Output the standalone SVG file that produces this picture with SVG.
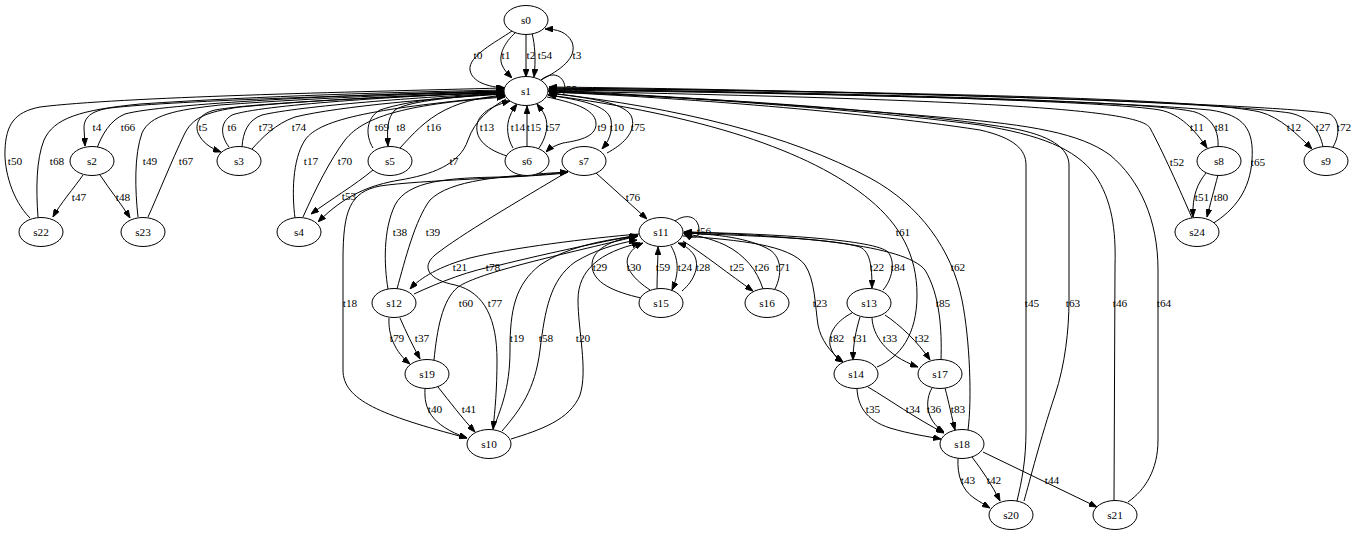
<svg xmlns="http://www.w3.org/2000/svg" width="1364" height="534" viewBox="0 0 1364 534">
<style>
  .n ellipse { fill: #fff; stroke: #000; stroke-width: 1; }
  text { font-family: "Liberation Serif", "Times New Roman", serif; font-size: 11.3px; fill: #000; text-anchor: middle; }
  .c path { fill: none; stroke: #000; stroke-width: 1; }
  .c path.a { marker-end: url(#arr); }
</style>
<defs>
  <marker id="arr" markerUnits="userSpaceOnUse" viewBox="0 0 8 6" markerWidth="8" markerHeight="6" refX="8" refY="3" orient="auto">
    <path d="M0,0 L8,3 L0,6 z" fill="#000" stroke="#000" stroke-width="0.8"/>
  </marker>
</defs>
<rect width="1364" height="534" fill="#fff"/>

<g id="connectors" class="c">
  <!-- s0 / s1 -->
  <path class="a" d="M512,31 C496,42 468,56 470,70 C472,82 488,87 505,88"/>
  <path class="a" d="M515,33 C505,42 498,55 502,65 C504,70 508,74 512,78"/>
  <path class="a" d="M526,34 L526,77"/>
  <path class="a" d="M532,33 C535,45 536,60 534,77"/>
  <path class="a" d="M541,80 C560,70 578,58 572,42 C567,32 557,29 545,29"/>
  <path class="a" d="M541,80 C553,70 565,76 565,89 C565,99 557,93 548,91"/>
  <!-- left fan -->
  <path class="a" d="M30,218 C12,200 4,170 5,150 C6,125 14,112 40,107 C120,97 350,92 504,88"/>
  <path class="a" d="M38,217 C36,190 36,160 44,140 C54,118 80,110 140,104 C260,96 400,92 504,90"/>
  <path class="a" d="M504,91 C380,95 180,100 110,108 C90,111 84,118 84,128 L85,146"/>
  <path class="a" d="M97,148 C102,135 110,120 125,114 C160,104 350,94 504,91"/>
  <path class="a" d="M83,175 C74,188 60,204 53,217"/>
  <path class="a" d="M100,175 C110,190 122,205 130,218"/>
  <path class="a" d="M138,217 C135,190 134,155 142,133 C150,115 175,110 220,105 C330,97 440,93 504,92"/>
  <path class="a" d="M148,217 C158,195 172,160 184,135 C192,118 205,112 240,107 C340,98 440,94 504,93"/>
  <path class="a" d="M504,92 C400,97 260,102 215,110 C198,114 195,125 198,133 C202,142 210,148 221,152"/>
  <path class="a" d="M229,147 C220,135 220,122 232,115 C260,105 400,96 504,92"/>
  <path class="a" d="M242,147 C243,132 248,120 262,115 C300,106 420,97 504,93"/>
  <path class="a" d="M252,149 C262,138 275,124 295,117 C340,106 440,98 505,94"/>
  <path class="a" d="M295,218 C292,195 292,160 305,140 C320,118 380,108 505,96"/>
  <path class="a" d="M303,217 C315,190 330,160 345,140 C365,115 410,104 505,97"/>
  <path class="a" d="M506,99 C490,108 475,120 468,140 C460,165 430,175 400,180 C370,185 345,195 318,222"/>
  <path class="a" d="M373,170 C355,185 330,200 311,214"/>
  <path class="a" d="M373,148 C365,135 366,118 380,110 C410,100 460,95 504,94"/>
  <path class="a" d="M505,93 C460,97 410,100 395,110 C387,118 387,130 388,146"/>
  <path class="a" d="M400,148 C412,135 425,120 445,110 C465,100 485,97 505,95"/>
  <path class="a" d="M507,156 C488,150 475,140 477,125 C479,112 495,105 510,101"/>
  <path class="a" d="M513,148 C507,138 506,125 510,116 C512,111 514,108 517,104"/>
  <path class="a" d="M527,147 L527,106"/>
  <path class="a" d="M539,148 C546,138 549,125 545,116 C543,111 540,108 537,104"/>
  <path class="a" d="M547,97 C570,102 595,108 596,123 C597,138 575,141 563,143 C556,145 550,148 546,152"/>
  <path class="a" d="M548,95 C580,100 608,105 611,120 C613,133 608,142 602,149"/>
  <path class="a" d="M607,153 C622,145 636,133 632,118 C628,103 590,98 549,93"/>
  <path class="a" d="M596,173 L647,219"/>
  <!-- right fan -->
  <path class="a" d="M548,89 C800,93 1100,100 1160,110 C1180,114 1195,130 1207,148"/>
  <path class="a" d="M1218,147 C1219,132 1213,118 1195,112 C1150,100 800,92 549,89"/>
  <path class="a" d="M1192,218 C1180,190 1162,150 1150,128 C1140,110 1000,100 549,91"/>
  <path class="a" d="M1212,224 C1235,210 1250,190 1252,160 C1254,130 1245,115 1210,110 C1100,100 800,93 549,90"/>
  <path class="a" d="M1206,173 C1198,183 1192,195 1193,217"/>
  <path class="a" d="M1218,175 C1214,190 1210,205 1207,217"/>
  <path class="a" d="M549,88 C900,92 1200,98 1260,112 C1280,117 1298,135 1312,149"/>
  <path class="a" d="M1323,147 C1320,132 1312,118 1290,113 C1200,100 850,91 549,88"/>
  <path class="a" d="M1333,147 C1340,135 1340,120 1330,114 C1300,105 850,90 549,87"/>
  <path class="a" d="M1017,501 C1022,480 1026,460 1026,430 L1026,165 C1026,150 1015,138 980,130 C850,110 650,96 549,92"/>
  <path class="a" d="M1024,501 C1030,480 1040,440 1055,395 C1065,365 1069,330 1069,300 L1069,165 C1069,148 1050,135 1010,128 C900,110 700,97 549,92"/>
  <path class="a" d="M1114,500 L1115,265 C1116,230 1112,200 1095,175 C1075,148 1040,135 980,125 C850,108 650,95 549,91"/>
  <path class="a" d="M1128,502 C1145,490 1158,470 1158,440 L1158,270 C1158,220 1140,180 1110,155 C1080,133 1030,125 950,118 C800,105 650,95 549,90"/>
  <path class="a" d="M877,367 C900,357 917,335 917,295 C917,255 900,225 870,200 C810,150 700,115 548,95"/>
  <path class="a" d="M968,430 C972,400 970,340 962,300 C952,250 920,205 870,178 C790,135 680,108 549,93"/>
  <!-- s11 cluster -->
  <path class="a" d="M675,221 C688,212 699,218 699,230 C699,240 692,238 684,234"/>
  <path class="a" d="M639,234 C590,238 510,248 470,258 C440,266 420,278 410,289"/>
  <path class="a" d="M414,294 C440,282 470,270 500,265 C540,255 600,242 638,235"/>
  <path class="a" d="M434,360 C437,330 442,300 458,287 C480,272 560,255 638,236"/>
  <path class="a" d="M493,430 C500,410 510,390 510,350 C510,310 515,285 540,265 C565,248 600,240 638,236"/>
  <path class="a" d="M502,431 C520,410 535,390 540,350 C545,310 550,280 575,262 C595,250 615,244 637,240"/>
  <path class="a" d="M511,439 C540,430 570,420 580,395 C588,370 578,330 578,300 C578,270 600,252 640,243"/>
  <path class="a" d="M388,289 C384,265 383,230 395,205 C408,180 450,178 500,177 C530,176 550,174 568,172"/>
  <path class="a" d="M397,289 C405,260 415,220 430,200 C450,180 500,176 568,172"/>
  <path class="a" d="M566,173 C520,178 420,180 380,186 C350,192 343,210 343,260 L343,370 C343,400 380,415 467,438"/>
  <path class="a" d="M567,172 C520,200 460,235 435,255 C420,268 430,280 455,285 C485,292 497,320 497,360 C497,390 495,410 493,429"/>
  <path class="a" d="M389,318 C388,335 395,352 410,364"/>
  <path class="a" d="M400,318 C406,332 413,346 420,359"/>
  <path class="a" d="M425,389 C424,408 430,425 467,438"/>
  <path class="a" d="M438,387 C450,402 462,418 475,432"/>
  <path class="a" d="M641,298 C615,292 592,283 592,265 C592,250 610,240 637,236"/>
  <path class="a" d="M650,290 C635,280 624,268 628,257 C631,250 636,246 643,243"/>
  <path class="a" d="M657,289 C657,275 658,260 658,247"/>
  <path class="a" d="M671,246 C678,258 680,272 672,290"/>
  <path class="a" d="M682,291 C695,280 700,265 694,255 C690,249 684,245 678,243"/>
  <path class="a" d="M683,241 C705,255 730,275 753,291"/>
  <path class="a" d="M763,289 C757,270 745,255 725,245 C710,238 695,235 684,234"/>
  <path class="a" d="M775,289 C782,275 782,258 770,250 C750,238 715,234 684,233"/>
  <path class="a" d="M683,236 C740,240 790,245 805,265 C815,280 815,305 818,325 C821,340 830,352 843,362"/>
  <path class="a" d="M683,233 C750,236 830,238 860,247 C870,252 872,265 872,288"/>
  <path class="a" d="M883,290 C892,280 896,262 888,252 C875,240 780,234 684,232"/>
  <path class="a" d="M941,360 C942,330 940,295 925,270 C905,245 800,236 684,232"/>
  <!-- s13 / s14 / s17 / s18 -->
  <path class="a" d="M852,313 C838,320 828,332 830,345 C832,353 836,358 843,362"/>
  <path class="a" d="M860,317 C856,330 853,345 853,360"/>
  <path class="a" d="M872,318 C873,335 885,355 918,367"/>
  <path class="a" d="M885,315 C900,325 918,342 930,360"/>
  <path class="a" d="M857,389 C858,405 865,420 890,428 C910,434 925,436 941,439"/>
  <path class="a" d="M868,387 C890,400 915,418 944,433"/>
  <path class="a" d="M932,388 C925,400 925,420 944,432"/>
  <path class="a" d="M945,388 C949,403 952,418 955,430"/>
  <path class="a" d="M958,458 C957,475 962,490 974,498 C980,502 985,505 990,508"/>
  <path class="a" d="M972,457 C982,470 992,485 1000,501"/>
  <path class="a" d="M983,452 L1097,507"/>

  <!-- edge labels -->
  <text x="478" y="59">t0</text><text x="506" y="59">t1</text><text x="531" y="59">t2</text>
  <text x="545" y="59">t54</text><text x="577" y="59">t3</text><text x="570" y="93">t55</text>
  <text x="97" y="131">t4</text><text x="128" y="131">t66</text><text x="15" y="165">t50</text>
  <text x="57" y="165">t68</text><text x="150" y="165">t49</text><text x="186" y="165">t67</text>
  <text x="79" y="201">t47</text><text x="123" y="201">t48</text>
  <text x="203" y="131">t5</text><text x="232" y="131">t6</text><text x="266" y="131">t73</text>
  <text x="299" y="131">t74</text><text x="311" y="165">t17</text><text x="345" y="165">t70</text>
  <text x="349" y="200">t53</text><text x="454" y="165">t7</text>
  <text x="382" y="131">t69</text><text x="401" y="131">t8</text><text x="434" y="131">t16</text>
  <text x="487" y="131">t13</text><text x="518" y="131">t14</text><text x="534" y="131">t15</text>
  <text x="553" y="131">t57</text><text x="602" y="131">t9</text><text x="617" y="131">t10</text>
  <text x="638" y="131">t75</text><text x="633" y="201">t76</text>
  <text x="1197" y="131">t11</text><text x="1222" y="131">t81</text><text x="1177" y="166">t52</text>
  <text x="1258" y="166">t65</text><text x="1202" y="201">t51</text><text x="1221" y="201">t80</text>
  <text x="1294" y="131">t12</text><text x="1323" y="131">t27</text><text x="1344" y="131">t72</text>
  <text x="1032" y="307">t45</text><text x="1073" y="307">t63</text>
  <text x="1120" y="307">t46</text><text x="1164" y="307">t64</text>
  <text x="903" y="236">t61</text><text x="958" y="271">t62</text>
  <text x="704" y="235">t56</text><text x="600" y="271">t29</text><text x="634" y="271">t30</text>
  <text x="663" y="271">t59</text><text x="685" y="271">t24</text><text x="703" y="271">t28</text>
  <text x="737" y="271">t25</text><text x="762" y="271">t26</text><text x="783" y="271">t71</text>
  <text x="820" y="307">t23</text><text x="877" y="271">t22</text><text x="898" y="271">t84</text>
  <text x="943" y="307">t85</text><text x="837" y="342">t82</text><text x="860" y="342">t31</text>
  <text x="890" y="342">t33</text><text x="922" y="342">t32</text><text x="873" y="413">t35</text>
  <text x="913" y="413">t34</text><text x="934" y="413">t36</text><text x="958" y="413">t83</text>
  <text x="968" y="484">t43</text><text x="994" y="484">t42</text><text x="1052" y="484">t44</text>
  <text x="460" y="271">t21</text><text x="493" y="271">t78</text><text x="400" y="236">t38</text>
  <text x="433" y="236">t39</text><text x="350" y="307">t18</text><text x="495" y="307">t77</text>
  <text x="466" y="307">t60</text><text x="517" y="342">t19</text><text x="546" y="342">t58</text>
  <text x="583" y="342">t20</text><text x="397" y="342">t79</text><text x="422" y="342">t37</text>
  <text x="435" y="413">t40</text><text x="469" y="413">t41</text>
</g>

<g id="s0" class="n"><ellipse cx="526" cy="20" rx="22" ry="14.5"/><text x="526" y="24">s0</text></g>
<g id="s1" class="n"><ellipse cx="526" cy="91" rx="22" ry="14.5"/><text x="526" y="95">s1</text></g>
<g id="s2" class="n"><ellipse cx="92" cy="161" rx="22" ry="14.5"/><text x="92" y="165">s2</text></g>
<g id="s3" class="n"><ellipse cx="239" cy="161" rx="22" ry="14.5"/><text x="239" y="165">s3</text></g>
<g id="s4" class="n"><ellipse cx="299" cy="232" rx="22" ry="14.5"/><text x="299" y="236">s4</text></g>
<g id="s5" class="n"><ellipse cx="390" cy="161" rx="22" ry="14.5"/><text x="390" y="165">s5</text></g>
<g id="s6" class="n"><ellipse cx="527" cy="161" rx="22" ry="14.5"/><text x="527" y="165">s6</text></g>
<g id="s7" class="n"><ellipse cx="584" cy="161" rx="22" ry="14.5"/><text x="584" y="165">s7</text></g>
<g id="s8" class="n"><ellipse cx="1219" cy="161" rx="22" ry="14.5"/><text x="1219" y="165">s8</text></g>
<g id="s9" class="n"><ellipse cx="1326" cy="161" rx="22" ry="14.5"/><text x="1326" y="165">s9</text></g>
<g id="s10" class="n"><ellipse cx="489" cy="444" rx="22" ry="14.5"/><text x="489" y="448">s10</text></g>
<g id="s11" class="n"><ellipse cx="661" cy="232" rx="22" ry="14.5"/><text x="661" y="236">s11</text></g>
<g id="s12" class="n"><ellipse cx="394" cy="303" rx="22" ry="14.5"/><text x="394" y="307">s12</text></g>
<g id="s13" class="n"><ellipse cx="869" cy="303" rx="22" ry="14.5"/><text x="869" y="307">s13</text></g>
<g id="s14" class="n"><ellipse cx="856" cy="374" rx="22" ry="14.5"/><text x="856" y="378">s14</text></g>
<g id="s15" class="n"><ellipse cx="661" cy="303" rx="22" ry="14.5"/><text x="661" y="307">s15</text></g>
<g id="s16" class="n"><ellipse cx="767" cy="303" rx="22" ry="14.5"/><text x="767" y="307">s16</text></g>
<g id="s17" class="n"><ellipse cx="940" cy="374" rx="22" ry="14.5"/><text x="940" y="378">s17</text></g>
<g id="s18" class="n"><ellipse cx="962" cy="444" rx="22" ry="14.5"/><text x="962" y="448">s18</text></g>
<g id="s19" class="n"><ellipse cx="427" cy="374" rx="22" ry="14.5"/><text x="427" y="378">s19</text></g>
<g id="s20" class="n"><ellipse cx="1011" cy="515" rx="22" ry="14.5"/><text x="1011" y="519">s20</text></g>
<g id="s21" class="n"><ellipse cx="1115" cy="515" rx="22" ry="14.5"/><text x="1115" y="519">s21</text></g>
<g id="s22" class="n"><ellipse cx="41" cy="232" rx="22" ry="14.5"/><text x="41" y="236">s22</text></g>
<g id="s23" class="n"><ellipse cx="143" cy="232" rx="22" ry="14.5"/><text x="143" y="236">s23</text></g>
<g id="s24" class="n"><ellipse cx="1197" cy="232" rx="22" ry="14.5"/><text x="1197" y="236">s24</text></g>
</svg>
